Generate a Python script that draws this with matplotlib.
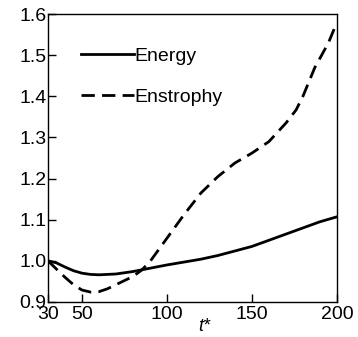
import matplotlib
matplotlib.use('Agg')
import matplotlib.pyplot as plt

plt.rcParams['font.family'] = ['Liberation Sans', 'DejaVu Sans']

t_energy = [30, 35, 40, 45, 50, 55, 60, 70, 80, 90, 100, 110, 120, 130, 140, 150, 160, 170, 180, 190, 200]
energy = [1.0, 0.995, 0.985, 0.976, 0.970, 0.967, 0.966, 0.968, 0.974, 0.982, 0.990, 0.997, 1.004,
          1.013, 1.024, 1.035, 1.050, 1.065, 1.080, 1.095, 1.107]

t_enst = [30, 35, 40, 45, 50, 55, 60, 65, 72, 80, 85, 90, 100, 110, 120, 130, 140, 150, 160, 170,
          176, 180, 187, 195, 200]
enstrophy = [1.0, 0.98, 0.96, 0.942, 0.929, 0.924, 0.925, 0.932, 0.946, 0.962, 0.977, 0.998, 1.055,
             1.112, 1.165, 1.205, 1.238, 1.262, 1.290, 1.335, 1.367, 1.40, 1.47, 1.53, 1.58]

x_ticks = [30, 50, 100, 150, 200]
y_ticks = [0.9, 1.0, 1.1, 1.2, 1.3, 1.4, 1.5, 1.6]

fig = plt.figure(figsize=(3.58, 3.37), dpi=100)
ax = fig.add_axes([0.134, 0.104, 0.807, 0.854])

ax.plot(t_energy, energy, color='black', lw=2.0, label='Energy')
ax.plot(t_enst, enstrophy, color='black', lw=2.0, linestyle=(0, (4.8, 2.6)), label='Enstrophy')

ax.set_xlim(30, 200)
ax.set_ylim(0.9, 1.6)
ax.set_xticks(x_ticks)
ax.set_yticks(y_ticks)
ax.set_yticklabels(['%.1f' % v for v in y_ticks])
ax.tick_params(direction='in', length=6, width=1, labelsize=14)
ax.tick_params(axis='x', pad=3)
ax.tick_params(axis='y', pad=1)
for s in ax.spines.values():
    s.set_linewidth(1)

# x label sits a bit right of centre, italic
ax.set_xlabel('t*', fontsize=13, fontstyle='italic')
ax.xaxis.set_label_coords(0.54, -0.055)
ax.xaxis.label.set_va('top')

ax.legend(loc='upper left', bbox_to_anchor=(0.055, 0.945), frameon=False, fontsize=14,
          handlelength=2.7, handletextpad=0.05, labelspacing=1.2)

fig.savefig('out.png', dpi=100)
